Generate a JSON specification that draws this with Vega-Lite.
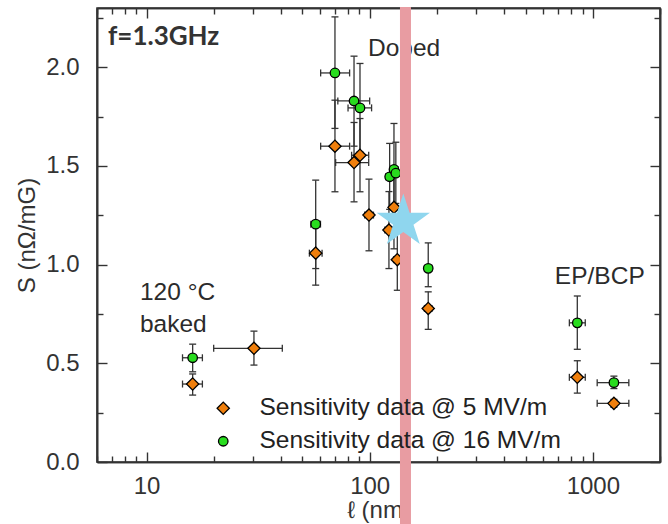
{
  "$schema": "https://vega.github.io/schema/vega-lite/v6.json",
  "width": 563,
  "height": 454,
  "autosize": {"type": "none"},
  "padding": {"left": 97, "top": 8, "right": 8, "bottom": 62},
  "background": "white",
  "config": {
    "view": {"stroke": "#333", "strokeWidth": 1.6},
    "axis": {
      "grid": false,
      "domainColor": "#333", "domainWidth": 1.6,
      "labelFont": "Liberation Sans", "labelFontSize": 24, "labelColor": "#333",
      "titleFont": "Liberation Sans", "titleFontSize": 24, "titleFontWeight": "normal", "titleColor": "#333"
    },
    "legend": {
      "orient": "none", "legendX": 114, "legendY": 388, "title": null, "padding": 0,
      "labelFont": "Liberation Sans", "labelFontSize": 24.5, "labelColor": "#222",
      "labelOffset": 24, "rowPadding": 8, "labelLimit": 0, "symbolStrokeWidth": 1.3
    }
  },
  "data": {
    "values": [
      {"series": "Sensitivity data @ 5 MV/m", "x": 16.1, "y": 0.395, "xlo": 14.5, "xhi": 17.8, "ylo": 0.339, "yhi": 0.446},
      {"series": "Sensitivity data @ 5 MV/m", "x": 30.3, "y": 0.576, "xlo": 20.0, "xhi": 40.6, "ylo": 0.491, "yhi": 0.663},
      {"series": "Sensitivity data @ 5 MV/m", "x": 57.3, "y": 1.058, "xlo": 53.7, "xhi": 61.2, "ylo": 0.896, "yhi": 1.22},
      {"series": "Sensitivity data @ 5 MV/m", "x": 69.9, "y": 1.6, "xlo": 60.3, "xhi": 81.3, "ylo": 1.369, "yhi": 1.833},
      {"series": "Sensitivity data @ 5 MV/m", "x": 85.1, "y": 1.517, "xlo": 70.4, "xhi": 99, "ylo": 1.318, "yhi": 1.72},
      {"series": "Sensitivity data @ 5 MV/m", "x": 90.5, "y": 1.554, "xlo": 83, "xhi": 99, "ylo": 1.369, "yhi": 1.74},
      {"series": "Sensitivity data @ 5 MV/m", "x": 99.3, "y": 1.251, "xlo": 95, "xhi": 104, "ylo": 1.07, "yhi": 1.433},
      {"series": "Sensitivity data @ 5 MV/m", "x": 128.5, "y": 1.29, "xlo": 124, "xhi": 133, "ylo": 1.08, "yhi": 1.5},
      {"series": "Sensitivity data @ 5 MV/m", "x": 122, "y": 1.175, "xlo": 117, "xhi": 127, "ylo": 0.98, "yhi": 1.37},
      {"series": "Sensitivity data @ 5 MV/m", "x": 133, "y": 1.025, "xlo": 128, "xhi": 138, "ylo": 0.87, "yhi": 1.18},
      {"series": "Sensitivity data @ 5 MV/m", "x": 183, "y": 0.778, "xlo": 176, "xhi": 190, "ylo": 0.672, "yhi": 0.862},
      {"series": "Sensitivity data @ 5 MV/m", "x": 852, "y": 0.429, "xlo": 785, "xhi": 925, "ylo": 0.349, "yhi": 0.513},
      {"series": "Sensitivity data @ 5 MV/m", "x": 1243, "y": 0.297, "xlo": 1046, "xhi": 1450, "ylo": 0.277, "yhi": 0.317},
      {"series": "Sensitivity data @ 16 MV/m", "x": 16.1, "y": 0.528, "xlo": 14.5, "xhi": 17.8, "ylo": 0.457, "yhi": 0.597},
      {"series": "Sensitivity data @ 16 MV/m", "x": 57.3, "y": 1.205, "xlo": 54.5, "xhi": 60.2, "ylo": 0.98, "yhi": 1.428},
      {"series": "Sensitivity data @ 16 MV/m", "x": 69.9, "y": 1.971, "xlo": 60.3, "xhi": 81.3, "ylo": 1.69, "yhi": 2.255},
      {"series": "Sensitivity data @ 16 MV/m", "x": 85.1, "y": 1.829, "xlo": 72, "xhi": 100, "ylo": 1.6, "yhi": 2.056},
      {"series": "Sensitivity data @ 16 MV/m", "x": 90.5, "y": 1.794, "xlo": 80, "xhi": 102, "ylo": 1.57, "yhi": 2.019},
      {"series": "Sensitivity data @ 16 MV/m", "x": 122.9, "y": 1.445, "xlo": 118, "xhi": 128, "ylo": 1.28, "yhi": 1.614},
      {"series": "Sensitivity data @ 16 MV/m", "x": 128.5, "y": 1.482, "xlo": 123, "xhi": 134, "ylo": 1.25, "yhi": 1.715},
      {"series": "Sensitivity data @ 16 MV/m", "x": 131, "y": 1.463, "xlo": 126, "xhi": 136, "ylo": 1.31, "yhi": 1.62},
      {"series": "Sensitivity data @ 16 MV/m", "x": 183, "y": 0.981, "xlo": 176, "xhi": 190, "ylo": 0.888, "yhi": 1.11},
      {"series": "Sensitivity data @ 16 MV/m", "x": 852, "y": 0.705, "xlo": 785, "xhi": 925, "ylo": 0.571, "yhi": 0.841},
      {"series": "Sensitivity data @ 16 MV/m", "x": 1243, "y": 0.402, "xlo": 1046, "xhi": 1450, "ylo": 0.372, "yhi": 0.435}
    ]
  },
  "resolve": {"axis": {"x": "independent", "y": "independent"}},
  "layer": [
    {
      "mark": {"type": "rule", "color": "#333", "strokeWidth": 1.3},
      "encoding": {
        "x": {"field": "x", "type": "quantitative",
          "scale": {"type": "log", "domain": [6, 2000], "nice": false},
          "axis": {"orient": "bottom", "values": [10, 100, 1000], "format": "d", "domain": true, "ticks": true, "tickSize": -10, "tickColor": "#333", "tickWidth": 1.4, "tickOpacity": 1, "labelPadding": 22, "title": "ℓ (nm)", "titlePadding": 0}},
        "y": {"field": "ylo", "type": "quantitative",
          "scale": {"domain": [0, 2.3], "nice": false, "zero": false},
          "axis": {"orient": "left", "values": [0, 0.5, 1, 1.5, 2], "format": ".1f", "domain": true, "ticks": true, "tickSize": -10, "tickColor": "#333", "tickWidth": 1.4, "tickOpacity": 1, "labelPadding": 28, "title": "S (nΩ/mG)", "titlePadding": 6}},
        "y2": {"field": "yhi"}
      }
    },
    {
      "mark": {"type": "rule", "color": "#333", "strokeWidth": 1.3},
      "encoding": {
        "x": {"field": "xlo", "type": "quantitative",
          "axis": {"orient": "bottom", "values": [6, 7, 8, 9, 20, 30, 40, 50, 60, 70, 80, 90, 200, 300, 400, 500, 600, 700, 800, 900, 2000], "labels": true, "labelExpr": "''", "ticks": true, "tickSize": -6, "tickColor": "#333", "tickWidth": 1.4, "tickOpacity": 1, "domain": true, "title": null}},
        "x2": {"field": "xhi"},
        "y": {"field": "y", "type": "quantitative",
          "axis": {"orient": "left", "values": [0.25, 0.75, 1.25, 1.75, 2.25], "labels": true, "labelExpr": "''", "ticks": true, "tickSize": -6, "tickColor": "#333", "tickWidth": 1.4, "tickOpacity": 1, "domain": true, "title": null}}
      }
    },
    {
      "mark": {"type": "point", "shape": "stroke", "filled": false, "stroke": "#333", "strokeWidth": 1.3, "size": 49, "opacity": 1},
      "encoding": {
        "x": {"field": "x", "type": "quantitative",
          "axis": {"orient": "top", "values": [10, 100, 1000], "labels": true, "labelExpr": "''", "ticks": true, "tickSize": -10, "tickColor": "#333", "tickWidth": 1.4, "tickOpacity": 1, "domain": true, "title": null}},
        "y": {"field": "ylo", "type": "quantitative",
          "axis": {"orient": "right", "values": [0, 0.5, 1, 1.5, 2], "labels": true, "labelExpr": "''", "ticks": true, "tickSize": -10, "tickColor": "#333", "tickWidth": 1.4, "tickOpacity": 1, "domain": true, "title": null}}
      }
    },
    {
      "mark": {"type": "point", "shape": "stroke", "filled": false, "stroke": "#333", "strokeWidth": 1.3, "size": 49, "opacity": 1},
      "encoding": {
        "x": {"field": "x", "type": "quantitative",
          "axis": {"orient": "top", "values": [6, 7, 8, 9, 20, 30, 40, 50, 60, 70, 80, 90, 200, 300, 400, 500, 600, 700, 800, 900, 2000], "labels": true, "labelExpr": "''", "ticks": true, "tickSize": -6, "tickColor": "#333", "tickWidth": 1.4, "tickOpacity": 1, "domain": true, "title": null}},
        "y": {"field": "yhi", "type": "quantitative",
          "axis": {"orient": "right", "values": [0.25, 0.75, 1.25, 1.75, 2.25], "labels": true, "labelExpr": "''", "ticks": true, "tickSize": -6, "tickColor": "#333", "tickWidth": 1.4, "tickOpacity": 1, "domain": true, "title": null}}
      }
    },
    {
      "mark": {"type": "point", "shape": "stroke", "angle": 90, "filled": false, "stroke": "#333", "strokeWidth": 1.3, "size": 49, "opacity": 1},
      "encoding": {
        "x": {"field": "xlo", "type": "quantitative", "axis": null},
        "y": {"field": "y", "type": "quantitative", "axis": null}
      }
    },
    {
      "mark": {"type": "point", "shape": "stroke", "angle": 90, "filled": false, "stroke": "#333", "strokeWidth": 1.3, "size": 49, "opacity": 1},
      "encoding": {
        "x": {"field": "xhi", "type": "quantitative", "axis": null},
        "y": {"field": "y", "type": "quantitative", "axis": null}
      }
    },
    {
      "mark": {"type": "point", "filled": true, "strokeWidth": 1.3, "opacity": 1},
      "encoding": {
        "x": {"field": "x", "type": "quantitative", "axis": null},
        "y": {"field": "y", "type": "quantitative", "axis": null},
        "fill": {"field": "series", "type": "nominal",
          "scale": {"domain": ["Sensitivity data @ 5 MV/m", "Sensitivity data @ 16 MV/m"], "range": ["#f07f0c", "#28dc1e"]}},
        "stroke": {"field": "series", "type": "nominal",
          "scale": {"domain": ["Sensitivity data @ 5 MV/m", "Sensitivity data @ 16 MV/m"], "range": ["#000000", "#000000"]}},
        "shape": {"field": "series", "type": "nominal",
          "scale": {"domain": ["Sensitivity data @ 5 MV/m", "Sensitivity data @ 16 MV/m"], "range": ["diamond", "circle"]}},
        "size": {"field": "series", "type": "nominal",
          "scale": {"domain": ["Sensitivity data @ 5 MV/m", "Sensitivity data @ 16 MV/m"], "range": [150, 90]}}
      }
    },
    {
      "data": {"values": [{}]},
      "mark": {"type": "text", "text": "f=1.3GHz", "align": "left", "baseline": "middle", "font": "Lato", "fontWeight": "bold", "fontSize": 26, "color": "#333"},
      "encoding": {"x": {"datum": 6.72, "type": "quantitative", "axis": null}, "y": {"datum": 2.155, "type": "quantitative", "axis": null}}
    },
    {
      "data": {"values": [{}]},
      "mark": {"type": "text", "text": "Doped", "align": "left", "baseline": "middle", "font": "Liberation Sans", "fontSize": 24.5, "color": "#2b2b2b"},
      "encoding": {"x": {"datum": 98.3, "type": "quantitative", "axis": null}, "y": {"datum": 2.092, "type": "quantitative", "axis": null}}
    },
    {
      "data": {"values": [{}]},
      "mark": {"type": "text", "text": "120 °C", "align": "left", "baseline": "middle", "font": "Liberation Sans", "fontSize": 24.5, "color": "#2b2b2b"},
      "encoding": {"x": {"datum": 9.35, "type": "quantitative", "axis": null}, "y": {"datum": 0.856, "type": "quantitative", "axis": null}}
    },
    {
      "data": {"values": [{}]},
      "mark": {"type": "text", "text": "baked", "align": "left", "baseline": "middle", "font": "Liberation Sans", "fontSize": 24.5, "color": "#2b2b2b"},
      "encoding": {"x": {"datum": 9.35, "type": "quantitative", "axis": null}, "y": {"datum": 0.694, "type": "quantitative", "axis": null}}
    },
    {
      "data": {"values": [{}]},
      "mark": {"type": "text", "text": "EP/BCP", "align": "left", "baseline": "middle", "font": "Liberation Sans", "fontSize": 24.5, "color": "#2b2b2b"},
      "encoding": {"x": {"datum": 676, "type": "quantitative", "axis": null}, "y": {"datum": 0.939, "type": "quantitative", "axis": null}}
    },
    {
      "data": {"values": [{}]},
      "mark": {"type": "rule", "color": "#e89ca2", "strokeWidth": 11, "clip": false},
      "encoding": {"x": {"datum": 144.7, "type": "quantitative", "axis": null}, "y": {"datum": 2.305, "type": "quantitative", "axis": null}, "y2": {"datum": -0.33}}
    },
    {
      "data": {"values": [{}]},
      "mark": {"type": "point", "shape": "M0,-1L0.2245,-0.309L0.951,-0.309L0.3633,0.118L0.588,0.809L0,0.382L-0.588,0.809L-0.3633,0.118L-0.951,-0.309L-0.2245,-0.309Z", "filled": true, "color": "#8fd6ee", "opacity": 1, "size": 3136, "strokeWidth": 0},
      "encoding": {"x": {"datum": 141.5, "type": "quantitative", "axis": null}, "y": {"datum": 1.219, "type": "quantitative", "axis": null}}
    }
  ]
}
